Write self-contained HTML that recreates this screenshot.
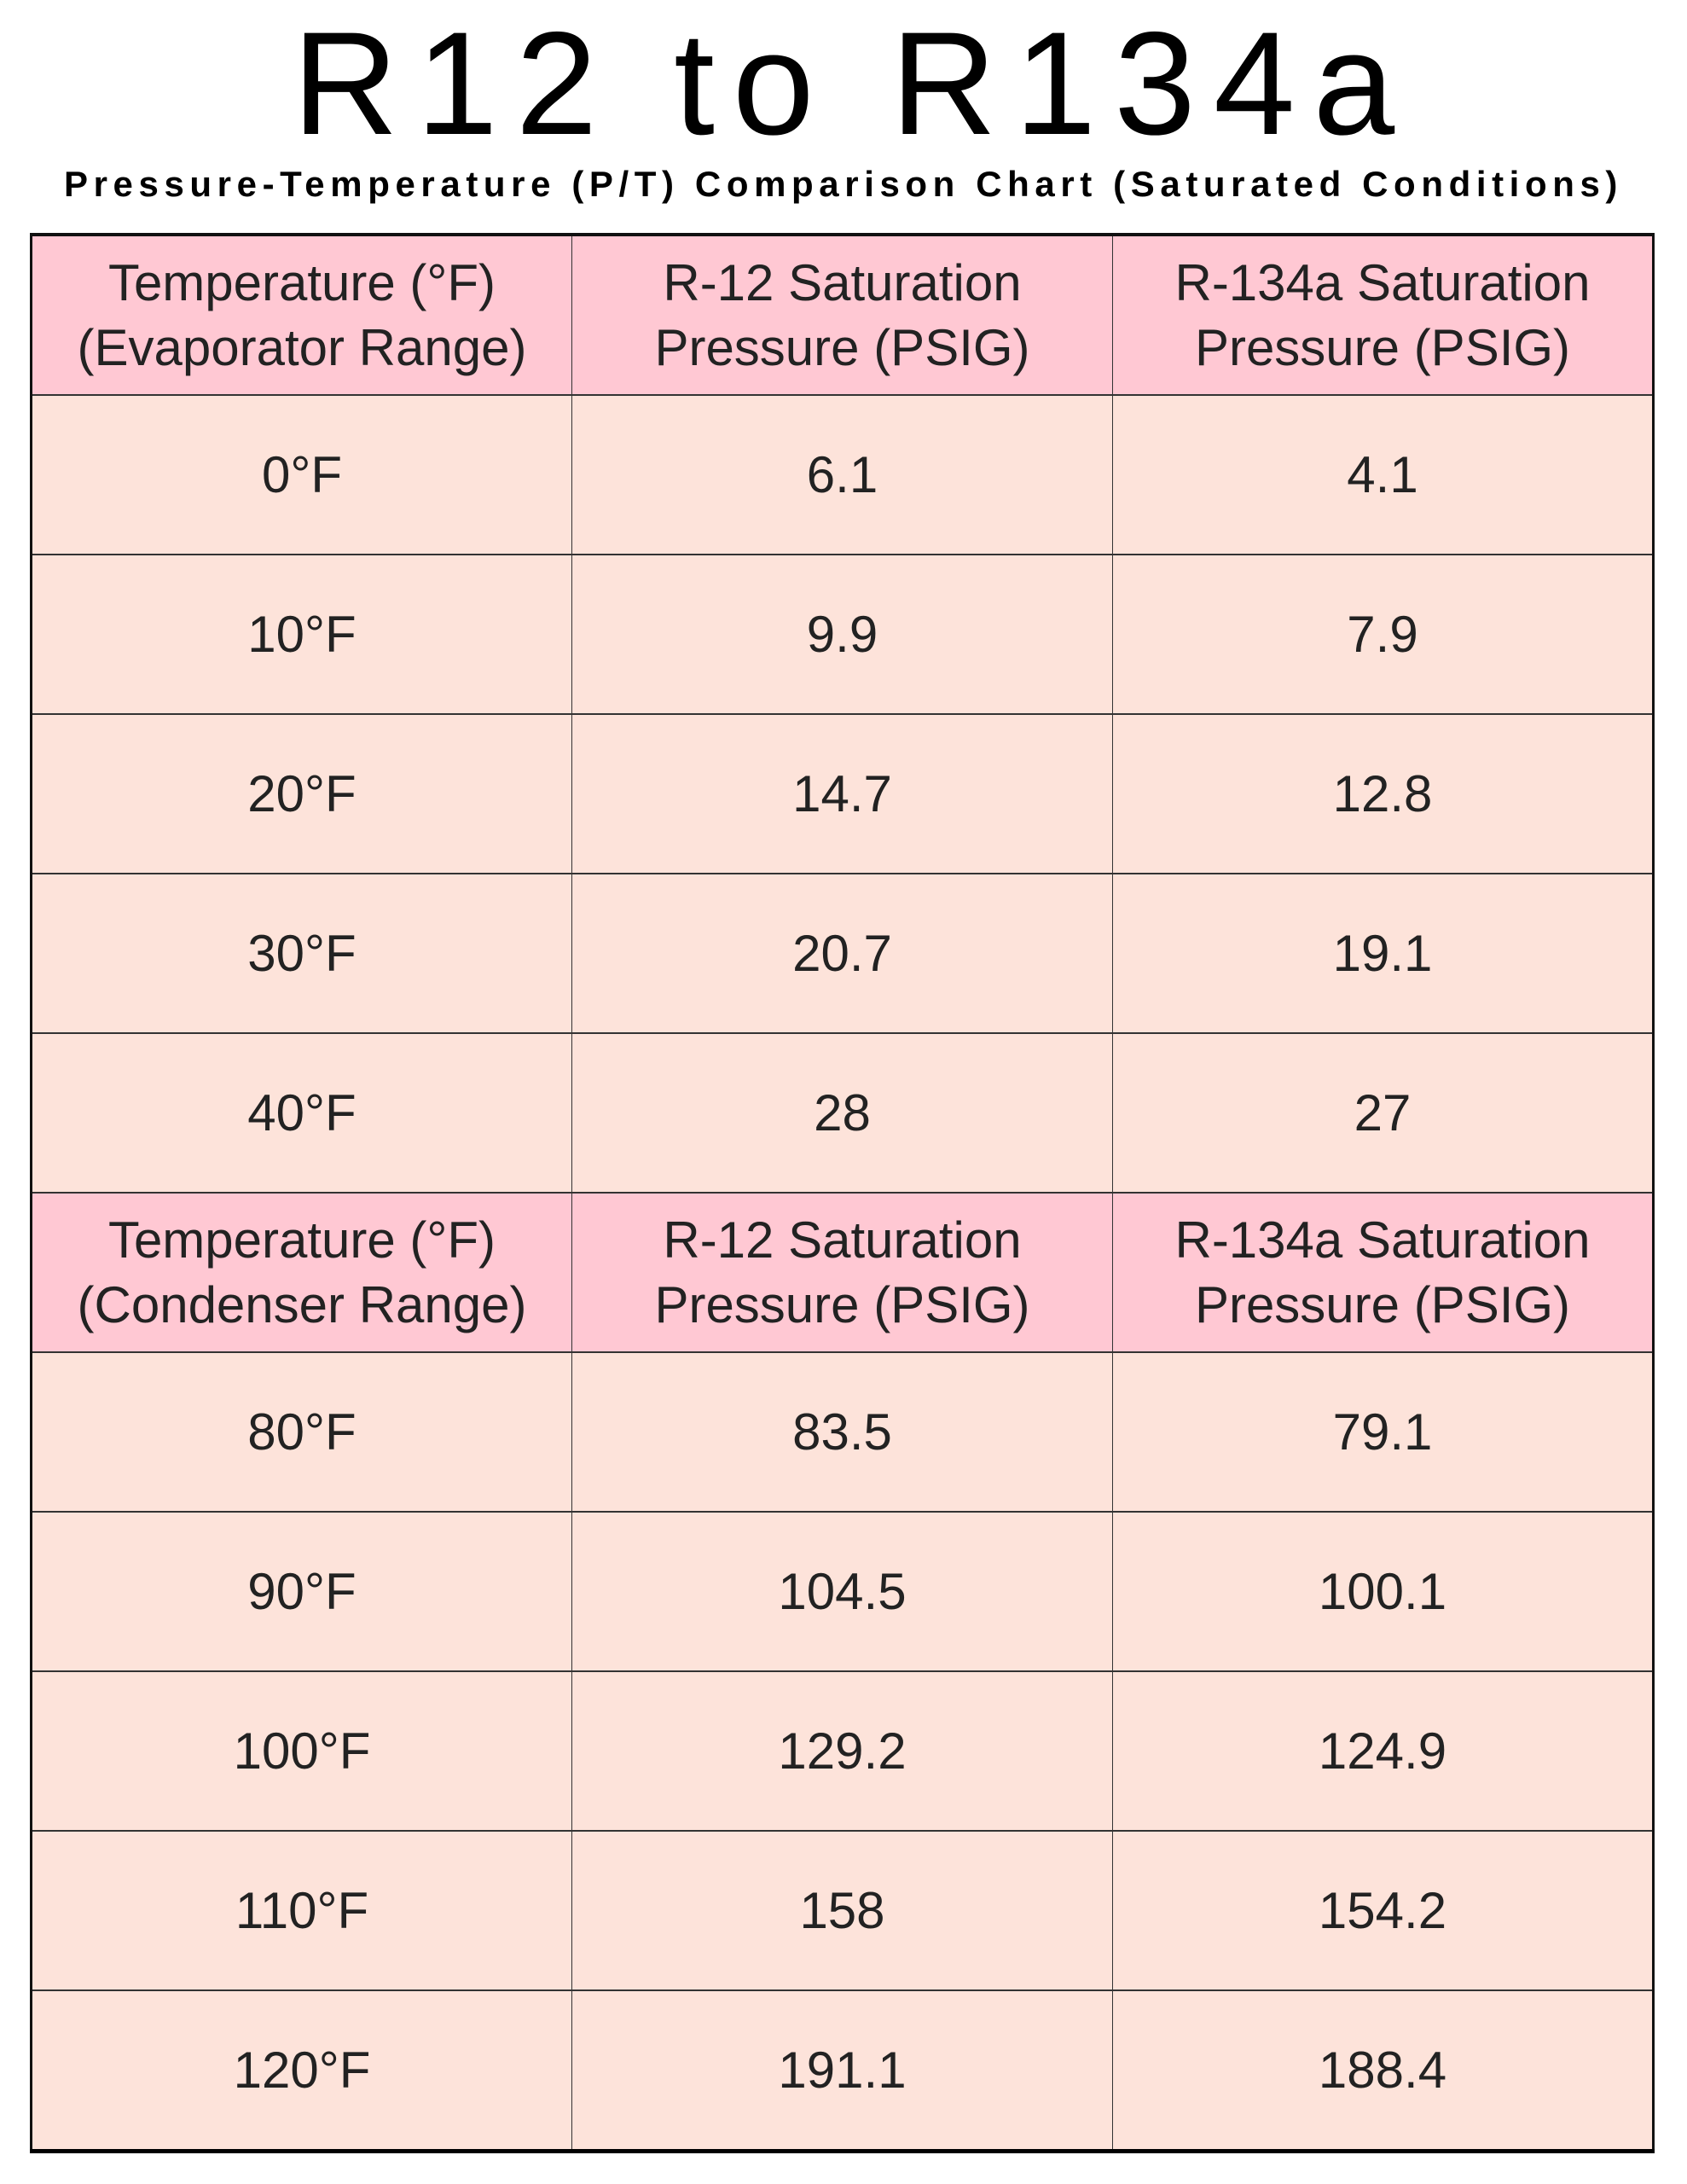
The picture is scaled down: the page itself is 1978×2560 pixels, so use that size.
<!DOCTYPE html>
<html><head><meta charset="utf-8"><style>
html,body{margin:0;padding:0;background:#fff;}
body{width:1978px;height:2560px;position:relative;overflow:hidden;font-family:"Liberation Sans",Arial,sans-serif;}
.title{position:absolute;left:0;width:1978px;top:12px;text-align:center;font-size:172px;line-height:172px;letter-spacing:21px;color:#000;padding-left:21px;box-sizing:border-box;}
.sub{position:absolute;left:0;width:1978px;top:193px;text-align:center;font-size:42px;font-weight:bold;letter-spacing:6.6px;color:#000;line-height:46px;}
table{position:absolute;left:35px;top:273px;width:1902px;border-collapse:collapse;table-layout:fixed;border-top:4px solid #111;border-left:3px solid #111;border-right:3px solid #111;border-bottom:5px solid #000;}
td{height:185px;padding:0;text-align:center;vertical-align:middle;color:#222;font-size:60px;border-top:2px solid #333;border-left:1px solid #333;background:#fde3da;line-height:76px;}
tr.h td{background:#ffc8d3;}
</style></head><body>
<div class="title">R12 to R134a</div>
<div class="sub">Pressure-Temperature (P/T) Comparison Chart (Saturated Conditions)</div>
<table>
<col style="width:634px"><col style="width:634px"><col style="width:634px">
<tr class="h"><td>Temperature (°F)<br>(Evaporator Range)</td><td>R-12 Saturation<br>Pressure (PSIG)</td><td>R-134a Saturation<br>Pressure (PSIG)</td></tr>
<tr><td>0°F</td><td>6.1</td><td>4.1</td></tr>
<tr><td>10°F</td><td>9.9</td><td>7.9</td></tr>
<tr><td>20°F</td><td>14.7</td><td>12.8</td></tr>
<tr><td>30°F</td><td>20.7</td><td>19.1</td></tr>
<tr><td>40°F</td><td>28</td><td>27</td></tr>
<tr class="h"><td>Temperature (°F)<br>(Condenser Range)</td><td>R-12 Saturation<br>Pressure (PSIG)</td><td>R-134a Saturation<br>Pressure (PSIG)</td></tr>
<tr><td>80°F</td><td>83.5</td><td>79.1</td></tr>
<tr><td>90°F</td><td>104.5</td><td>100.1</td></tr>
<tr><td>100°F</td><td>129.2</td><td>124.9</td></tr>
<tr><td>110°F</td><td>158</td><td>154.2</td></tr>
<tr><td>120°F</td><td>191.1</td><td>188.4</td></tr>
</table>
</body></html>
